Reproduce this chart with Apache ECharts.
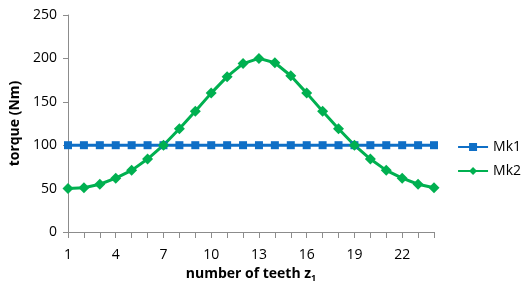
<!DOCTYPE html>
<html>
<head>
<meta charset="utf-8">
<script src="https://cdn.jsdelivr.net/npm/echarts@6/dist/echarts.min.js"></script>
<style>
  html, body { margin: 0; padding: 0; background: #fff; }
</style>
</head>
<body>
<div id="chart" style="width: 527px; height: 287px;"></div>
<script>
  const teeth = ['1', '2', '3', '4', '5', '6', '7', '8', '9', '10', '11', '12',
                 '13', '14', '15', '16', '17', '18', '19', '20', '21', '22', '23', '24'];
  const mk1 = [100, 100, 100, 100, 100, 100, 100, 100, 100, 100, 100, 100,
               100, 100, 100, 100, 100, 100, 100, 100, 100, 100, 100, 100];
  const mk2 = [50, 51, 55, 62, 71, 84, 100, 119, 139, 160, 179, 194,
               200, 195, 180, 160, 139, 119, 100, 84, 71, 62, 55, 51];

  let chart = echarts.init(document.getElementById('chart'));

  const font = 'Open Sans, Liberation Sans, sans-serif';

  let option = {
    animation: false,
    textStyle: { fontFamily: font },
    grid: { left: 68, right: 93, top: 15, bottom: 55, outerBoundsMode: 'none' },
    legend: {
      orient: 'vertical',
      right: 1,
      top: 135,
      itemGap: 10,
      itemWidth: 30,
      itemHeight: 10,
      textStyle: { fontSize: 14, color: '#000', fontFamily: font }
    },
    xAxis: {
      type: 'category',
      boundaryGap: false,
      data: teeth,
      name: 'number of teeth {s|z}{sub|1}',
      nameLocation: 'middle',
      nameGap: 33,
      nameTextStyle: {
        fontSize: 14, fontWeight: 'bold', color: '#000',
        rich: {
          s: { fontSize: 14, fontWeight: 'bold', color: '#000' },
          sub: { fontSize: 9, fontWeight: 'bold', color: '#000', padding: [9, 0, 0, 0] }
        }
      },
      axisLine: { lineStyle: { color: '#8c8c8c' } },
      axisTick: { alignWithLabel: true, interval: 0, length: 6, lineStyle: { color: '#8c8c8c' } },
      axisLabel: { interval: 2, fontSize: 14, color: '#000', margin: 16 },
      splitLine: { show: false }
    },
    yAxis: {
      type: 'value',
      min: 0,
      max: 250,
      interval: 50,
      name: 'torque (Nm)',
      nameLocation: 'middle',
      nameGap: 44,
      nameTextStyle: { fontSize: 14, fontWeight: 'bold', color: '#000' },
      axisLine: { show: true, lineStyle: { color: '#8c8c8c' } },
      axisTick: { show: true, length: 5, lineStyle: { color: '#8c8c8c' } },
      axisLabel: { fontSize: 14, color: '#000', margin: 11 },
      splitLine: { show: false }
    },
    series: [
      {
        name: 'Mk1',
        type: 'line',
        data: mk1,
        symbol: 'rect',
        symbolSize: 8,
        showAllSymbol: true,
        lineStyle: { width: 3, color: '#0f6fc6' },
        itemStyle: { color: '#0f6fc6' }
      },
      {
        name: 'Mk2',
        type: 'line',
        data: mk2,
        symbol: 'diamond',
        symbolSize: 11,
        showAllSymbol: true,
        lineStyle: { width: 3, color: '#00b050' },
        itemStyle: { color: '#00b050' }
      }
    ]
  };

  chart.setOption(option);
</script>
</body>
</html>
